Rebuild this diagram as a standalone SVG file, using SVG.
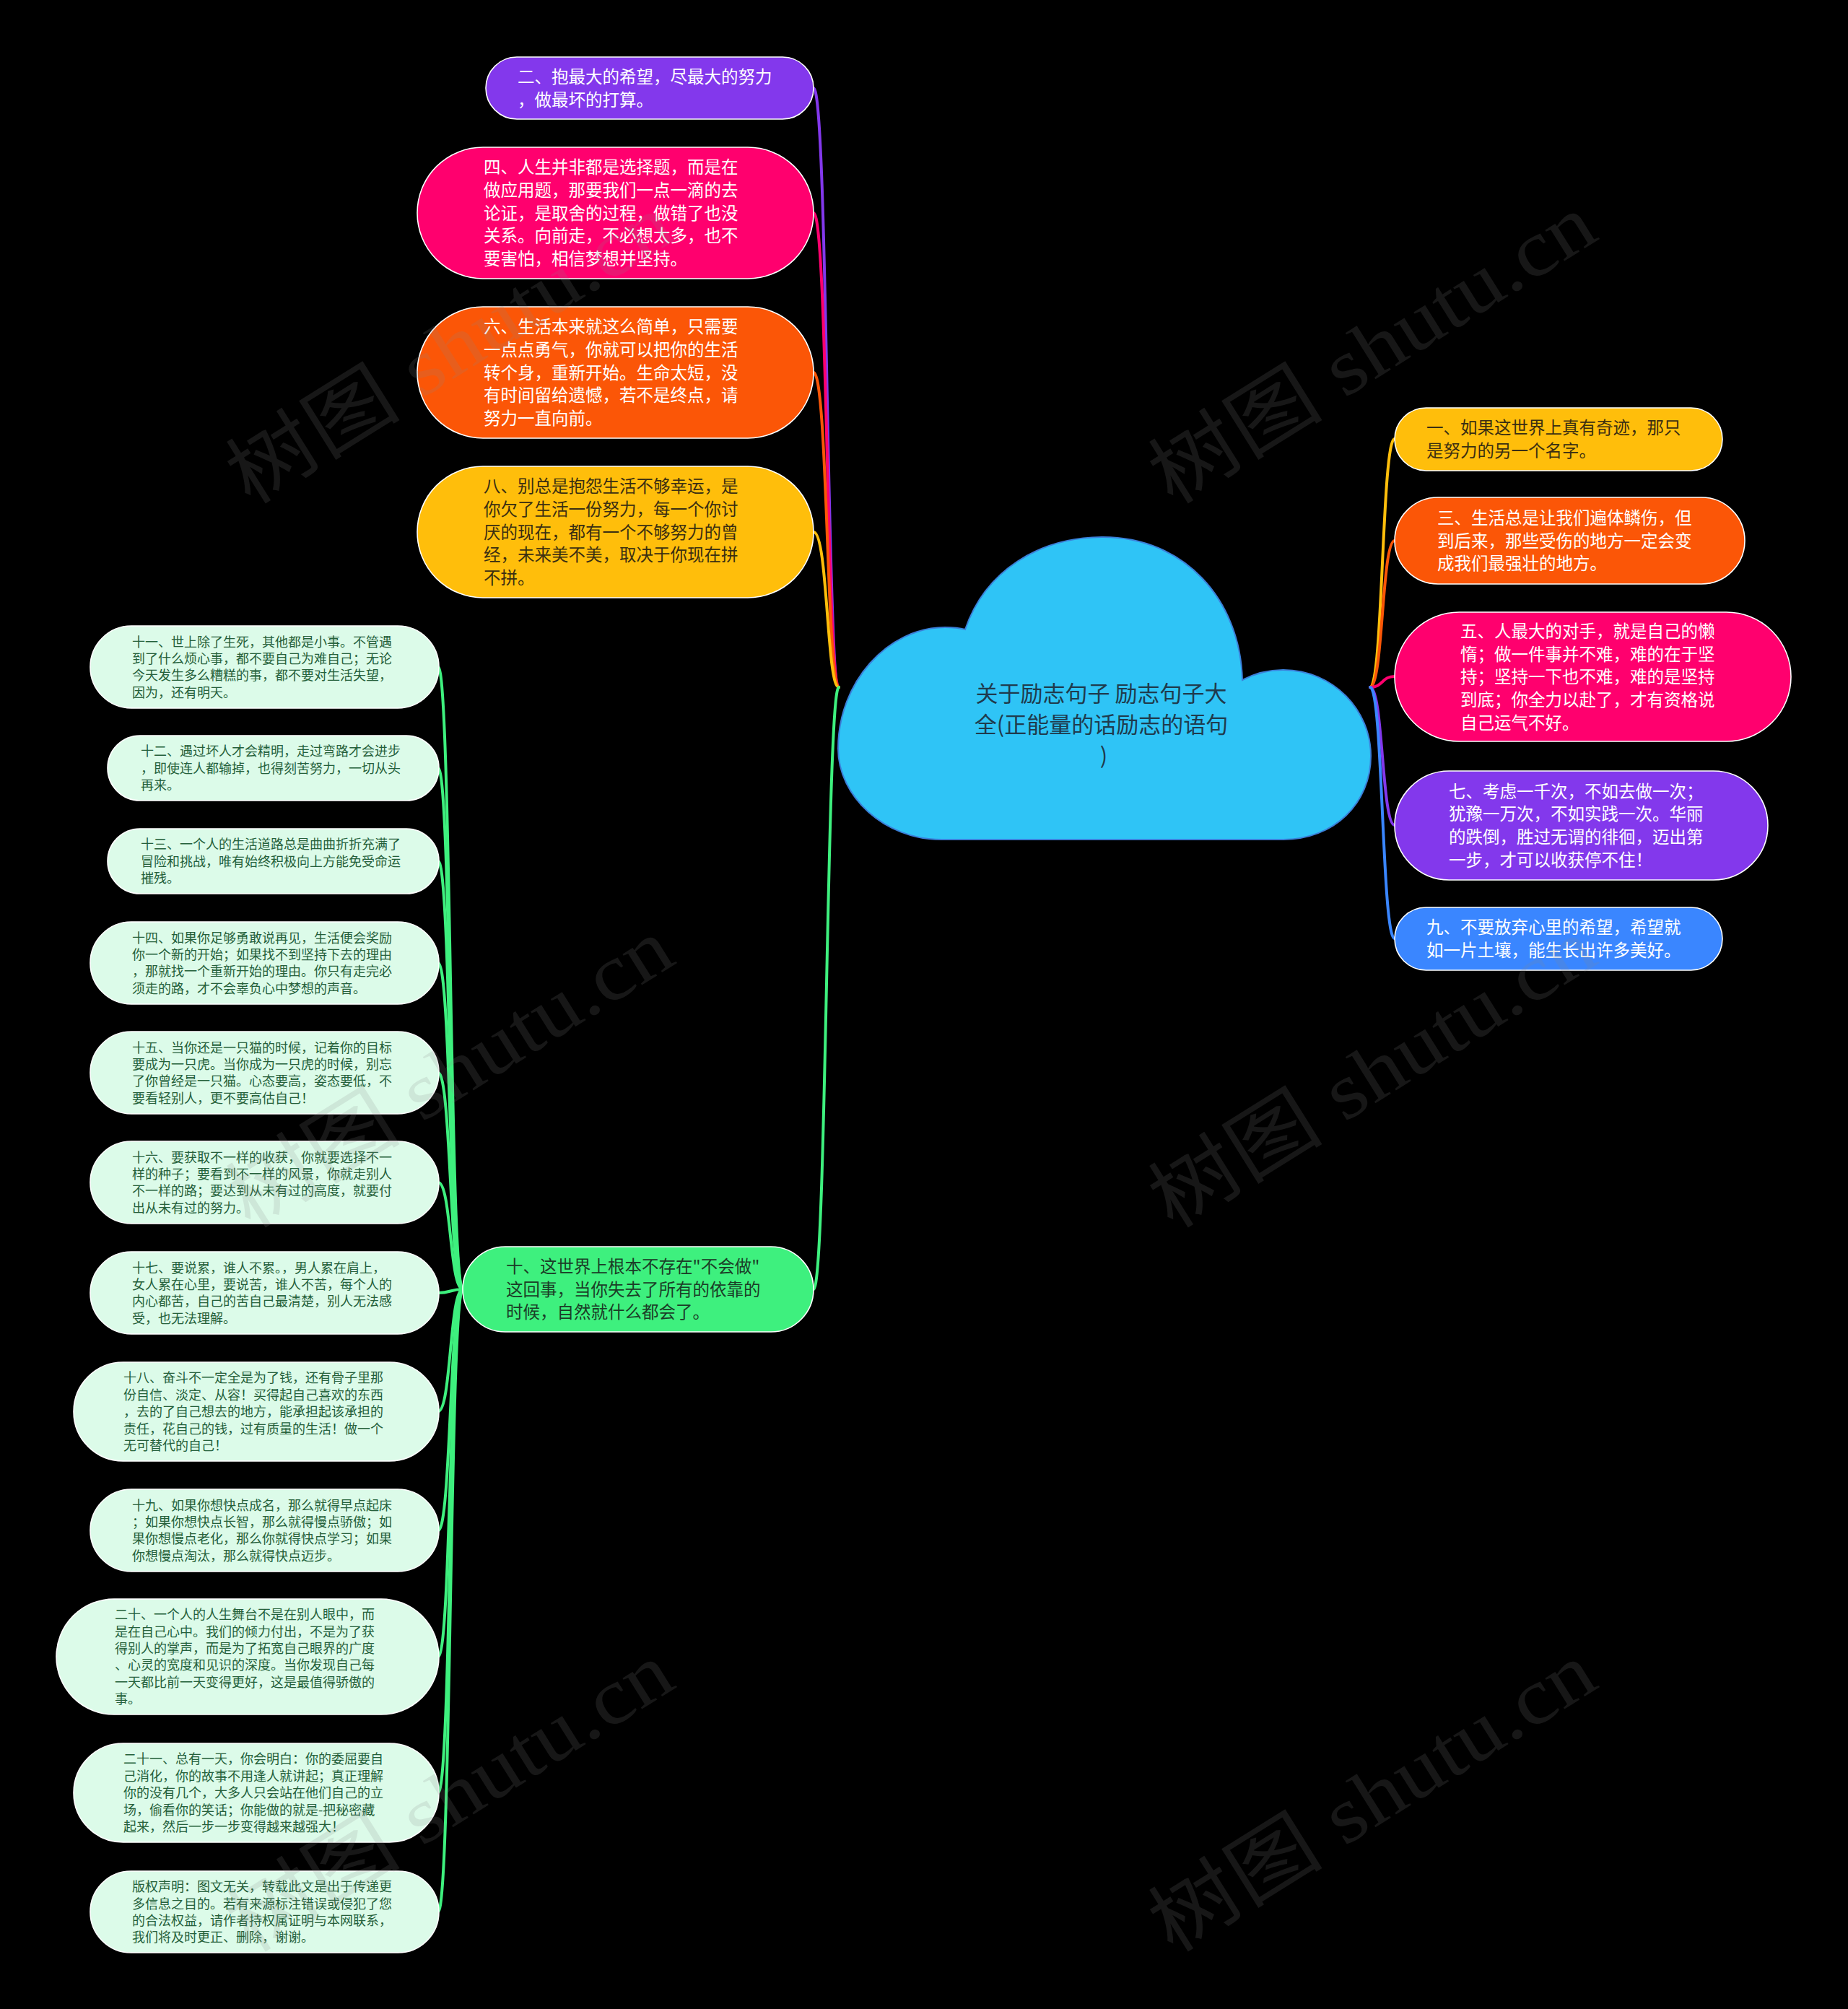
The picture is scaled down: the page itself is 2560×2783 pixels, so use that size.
<svg xmlns="http://www.w3.org/2000/svg" width="2560" height="2783" viewBox="0 0 2560 2783">
<style>
.t{font-family:"Noto Sans CJK SC","Noto Sans",sans-serif;}
.big{font-size:23.5px;}
.leaf{font-size:18px;fill:#24603a;}
.w{fill:#ffffff;}
.dk{fill:#3a2e12;}
.node{stroke:#ffffff;stroke-width:1.6;}
.leafbox{fill:#dcfbe9;stroke:#ffffff;stroke-width:1.6;}
.c{fill:none;stroke-width:4;stroke-linecap:round;}
.wm{font-family:"Liberation Serif","Noto Sans CJK SC",serif;font-size:110px;fill:#8a8a8a;opacity:0.17;}
</style>
<rect x="0" y="0" width="2560" height="2783" fill="#000000"/>

<g id="connectors">
  <path class="c" stroke="#8338ec" d="M1127 122 C1147 122 1145 952 1162 952"/>
  <path class="c" stroke="#ff006e" d="M1127 295 C1147 295 1145 952 1162 952"/>
  <path class="c" stroke="#fb5607" d="M1127 516 C1147 516 1145 952 1162 952"/>
  <path class="c" stroke="#ffbe0b" d="M1127 737 C1147 737 1145 952 1162 952"/>
  <path class="c" stroke="#3ef07e" d="M1162 952 C1145 952 1145 1786 1127 1786"/>
  <path class="c" stroke="#ffbe0b" d="M1898 952 C1916 952 1914 608 1932 608"/>
  <path class="c" stroke="#fb5607" d="M1898 952 C1916 952 1914 749 1932 749"/>
  <path class="c" stroke="#ff006e" d="M1898 952 C1916 952 1914 937 1932 937"/>
  <path class="c" stroke="#8338ec" d="M1898 952 C1916 952 1914 1143 1932 1143"/>
  <path class="c" stroke="#3a86ff" d="M1898 952 C1916 952 1914 1300 1932 1300"/>
  <g stroke="#3ef07e">
    <path class="c" d="M641 1786 C623 1786 625 924 607 924"/>
    <path class="c" d="M641 1786 C623 1786 625 1064 607 1064"/>
    <path class="c" d="M641 1786 C623 1786 625 1193 607 1193"/>
    <path class="c" d="M641 1786 C623 1786 625 1334 607 1334"/>
    <path class="c" d="M641 1786 C623 1786 625 1486 607 1486"/>
    <path class="c" d="M641 1786 C623 1786 625 1638 607 1638"/>
    <path class="c" d="M641 1786 C623 1786 625 1791 607 1791"/>
    <path class="c" d="M641 1786 C623 1786 625 1955 607 1955"/>
    <path class="c" d="M641 1786 C623 1786 625 2120 607 2120"/>
    <path class="c" d="M641 1786 C623 1786 625 2295 607 2295"/>
    <path class="c" d="M641 1786 C623 1786 625 2483 607 2483"/>
    <path class="c" d="M641 1786 C623 1786 625 2648 607 2648"/>
  </g>
</g>

<g id="root">
  <path d="M1337 872 C1365 790 1440 744 1528 744 C1640 744 1718 830 1721 942 C1738 933 1757 928 1777 928 C1848 928 1899 985 1899 1047 C1899 1113 1848 1163 1777 1163 L1304 1163 C1225 1163 1161 1103 1161 1037 C1161 945 1230 869 1309 869 C1320 869 1330 870 1337 872 Z" fill="#2fc4f6" stroke="#3b7fd9" stroke-width="2"/>
  <text class="t" font-size="31" fill="#1f3b4d" text-anchor="middle">
    <tspan x="1529" y="972">关于励志句子 励志句子大</tspan>
    <tspan x="1529" y="1015">全(正能量的话励志的语句</tspan>
    <tspan x="1529" y="1058">)</tspan>
  </text>
</g>

<g id="n2">
  <rect class="node" x="673" y="79" width="454" height="86" rx="43" fill="#8338ec"/>
  <text class="t big w"><tspan x="717" y="115">二、抱最大的希望，尽最大的努力</tspan><tspan x="717" y="146.5">，做最坏的打算。</tspan></text>
</g>
<g id="n4">
  <rect class="node" x="578" y="204" width="549" height="182" rx="91" fill="#ff006e"/>
  <text class="t big w"><tspan x="670" y="240.3">四、人生并非都是选择题，而是在</tspan><tspan x="670" y="272">做应用题，那要我们一点一滴的去</tspan><tspan x="670" y="303.7">论证，是取舍的过程，做错了也没</tspan><tspan x="670" y="335.4">关系。向前走，不必想太多，也不</tspan><tspan x="670" y="367.1">要害怕，相信梦想并坚持。</tspan></text>
</g>
<g id="n6">
  <rect class="node" x="578" y="425" width="549" height="182" rx="91" fill="#fb5607"/>
  <text class="t big w"><tspan x="670" y="461.3">六、生活本来就这么简单，只需要</tspan><tspan x="670" y="493">一点点勇气，你就可以把你的生活</tspan><tspan x="670" y="524.7">转个身，重新开始。生命太短，没</tspan><tspan x="670" y="556.4">有时间留给遗憾，若不是终点，请</tspan><tspan x="670" y="588.1">努力一直向前。</tspan></text>
</g>
<g id="n8">
  <rect class="node" x="578" y="646" width="549" height="182" rx="91" fill="#ffbe0b"/>
  <text class="t big dk"><tspan x="670" y="682.3">八、别总是抱怨生活不够幸运，是</tspan><tspan x="670" y="714">你欠了生活一份努力，每一个你讨</tspan><tspan x="670" y="745.7">厌的现在，都有一个不够努力的曾</tspan><tspan x="670" y="777.4">经，未来美不美，取决于你现在拼</tspan><tspan x="670" y="809.1">不拼。</tspan></text>
</g>

<g id="n1">
  <rect class="node" x="1932" y="565" width="454" height="87" rx="43.5" fill="#ffbe0b"/>
  <text class="t big dk"><tspan x="1976" y="601.4">一、如果这世界上真有奇迹，那只</tspan><tspan x="1976" y="633.1">是努力的另一个名字。</tspan></text>
</g>
<g id="n3">
  <rect class="node" x="1932" y="689" width="485" height="120" rx="60" fill="#fb5607"/>
  <text class="t big w"><tspan x="1991" y="726">三、生活总是让我们遍体鳞伤，但</tspan><tspan x="1991" y="757.7">到后来，那些受伤的地方一定会变</tspan><tspan x="1991" y="789.4">成我们最强壮的地方。</tspan></text>
</g>
<g id="n5">
  <rect class="node" x="1932" y="848" width="549" height="179" rx="89.5" fill="#ff006e"/>
  <text class="t big w"><tspan x="2023" y="882.8">五、人最大的对手，就是自己的懒</tspan><tspan x="2023" y="914.5">惰；做一件事并不难，难的在于坚</tspan><tspan x="2023" y="946.2">持；坚持一下也不难，难的是坚持</tspan><tspan x="2023" y="977.9">到底；你全力以赴了，才有资格说</tspan><tspan x="2023" y="1009.6">自己运气不好。</tspan></text>
</g>
<g id="n7">
  <rect class="node" x="1932" y="1068" width="517" height="151" rx="75.5" fill="#8338ec"/>
  <text class="t big w"><tspan x="2007" y="1104.6">七、考虑一千次，不如去做一次；</tspan><tspan x="2007" y="1136.3">犹豫一万次，不如实践一次。华丽</tspan><tspan x="2007" y="1168">的跌倒，胜过无谓的徘徊，迈出第</tspan><tspan x="2007" y="1199.7">一步，才可以收获停不住！</tspan></text>
</g>
<g id="n9">
  <rect class="node" x="1932" y="1257" width="454" height="87" rx="43.5" fill="#3a86ff"/>
  <text class="t big w"><tspan x="1976" y="1293.4">九、不要放弃心里的希望，希望就</tspan><tspan x="1976" y="1325.1">如一片土壤，能生长出许多美好。</tspan></text>
</g>

<g id="n10">
  <rect class="node" x="641" y="1727" width="486" height="118" rx="59" fill="#3ef07e"/>
  <text class="t big" fill="#1b3d27"><tspan x="701" y="1763">十、这世界上根本不存在"不会做"</tspan><tspan x="701" y="1794.7">这回事，当你失去了所有的依靠的</tspan><tspan x="701" y="1826.4">时候，自然就什么都会了。</tspan></text>
</g>

<g id="n11">
  <rect class="leafbox" x="125" y="867" width="483" height="114" rx="57"/>
  <text class="t leaf"><tspan x="183" y="895.6">十一、世上除了生死，其他都是小事。不管遇</tspan><tspan x="183" y="919">到了什么烦心事，都不要自己为难自己；无论</tspan><tspan x="183" y="942.4">今天发生多么糟糕的事，都不要对生活失望，</tspan><tspan x="183" y="965.8">因为，还有明天。</tspan></text>
</g>
<g id="n12">
  <rect class="leafbox" x="149" y="1019" width="459" height="90" rx="45"/>
  <text class="t leaf"><tspan x="195" y="1047.3">十二、遇过坏人才会精明，走过弯路才会进步</tspan><tspan x="195" y="1070.7">，即使连人都输掉，也得刻苦努力，一切从头</tspan><tspan x="195" y="1094.1">再来。</tspan></text>
</g>
<g id="n13">
  <rect class="leafbox" x="149" y="1148" width="459" height="90" rx="45"/>
  <text class="t leaf"><tspan x="195" y="1176.3">十三、一个人的生活道路总是曲曲折折充满了</tspan><tspan x="195" y="1199.7">冒险和挑战，唯有始终积极向上方能免受命运</tspan><tspan x="195" y="1223.1">摧残。</tspan></text>
</g>
<g id="n14">
  <rect class="leafbox" x="125" y="1277" width="483" height="114" rx="57"/>
  <text class="t leaf"><tspan x="183" y="1305.6">十四、如果你足够勇敢说再见，生活便会奖励</tspan><tspan x="183" y="1329">你一个新的开始；如果找不到坚持下去的理由</tspan><tspan x="183" y="1352.4">，那就找一个重新开始的理由。你只有走完必</tspan><tspan x="183" y="1375.8">须走的路，才不会辜负心中梦想的声音。</tspan></text>
</g>
<g id="n15">
  <rect class="leafbox" x="125" y="1429" width="483" height="114" rx="57"/>
  <text class="t leaf"><tspan x="183" y="1457.6">十五、当你还是一只猫的时候，记着你的目标</tspan><tspan x="183" y="1481">要成为一只虎。当你成为一只虎的时候，别忘</tspan><tspan x="183" y="1504.4">了你曾经是一只猫。心态要高，姿态要低，不</tspan><tspan x="183" y="1527.8">要看轻别人，更不要高估自己！</tspan></text>
</g>
<g id="n16">
  <rect class="leafbox" x="125" y="1581" width="483" height="114" rx="57"/>
  <text class="t leaf"><tspan x="183" y="1609.6">十六、要获取不一样的收获，你就要选择不一</tspan><tspan x="183" y="1633">样的种子；要看到不一样的风景，你就走别人</tspan><tspan x="183" y="1656.4">不一样的路；要达到从未有过的高度，就要付</tspan><tspan x="183" y="1679.8">出从未有过的努力。</tspan></text>
</g>
<g id="n17">
  <rect class="leafbox" x="125" y="1734" width="483" height="114" rx="57"/>
  <text class="t leaf"><tspan x="183" y="1762.6">十七、要说累，谁人不累。，男人累在肩上，</tspan><tspan x="183" y="1786">女人累在心里，要说苦，谁人不苦，每个人的</tspan><tspan x="183" y="1809.4">内心都苦，自己的苦自己最清楚，别人无法感</tspan><tspan x="183" y="1832.8">受，也无法理解。</tspan></text>
</g>
<g id="n18">
  <rect class="leafbox" x="102" y="1887" width="506" height="137" rx="68.5"/>
  <text class="t leaf"><tspan x="171" y="1915.4">十八、奋斗不一定全是为了钱，还有骨子里那</tspan><tspan x="171" y="1938.8">份自信、淡定、从容！买得起自己喜欢的东西</tspan><tspan x="171" y="1962.2">，去的了自己想去的地方，能承担起该承担的</tspan><tspan x="171" y="1985.6">责任，花自己的钱，过有质量的生活！做一个</tspan><tspan x="171" y="2009">无可替代的自己！</tspan></text>
</g>
<g id="n19">
  <rect class="leafbox" x="125" y="2063" width="483" height="114" rx="57"/>
  <text class="t leaf"><tspan x="183" y="2091.6">十九、如果你想快点成名，那么就得早点起床</tspan><tspan x="183" y="2115">；如果你想快点长智，那么就得慢点骄傲；如</tspan><tspan x="183" y="2138.4">果你想慢点老化，那么你就得快点学习；如果</tspan><tspan x="183" y="2161.8">你想慢点淘汰，那么就得快点迈步。</tspan></text>
</g>
<g id="n20">
  <rect class="leafbox" x="78" y="2215" width="530" height="160" rx="80"/>
  <text class="t leaf"><tspan x="159" y="2243.2">二十、一个人的人生舞台不是在别人眼中，而</tspan><tspan x="159" y="2266.6">是在自己心中。我们的倾力付出，不是为了获</tspan><tspan x="159" y="2290">得别人的掌声，而是为了拓宽自己眼界的广度</tspan><tspan x="159" y="2313.4">、心灵的宽度和见识的深度。当你发现自己每</tspan><tspan x="159" y="2336.8">一天都比前一天变得更好，这是最值得骄傲的</tspan><tspan x="159" y="2360.2">事。</tspan></text>
</g>
<g id="n21">
  <rect class="leafbox" x="102" y="2415" width="506" height="137" rx="68.5"/>
  <text class="t leaf"><tspan x="171" y="2443.4">二十一、总有一天，你会明白：你的委屈要自</tspan><tspan x="171" y="2466.8">己消化，你的故事不用逢人就讲起；真正理解</tspan><tspan x="171" y="2490.2">你的没有几个，大多人只会站在他们自己的立</tspan><tspan x="171" y="2513.6">场，偷看你的笑话；你能做的就是-把秘密藏</tspan><tspan x="171" y="2537">起来，然后一步一步变得越来越强大！</tspan></text>
</g>
<g id="n22">
  <rect class="leafbox" x="125" y="2592" width="483" height="113" rx="56.5"/>
  <text class="t leaf"><tspan x="183" y="2620.1">版权声明：图文无关，转载此文是出于传递更</tspan><tspan x="183" y="2643.5">多信息之目的。若有来源标注错误或侵犯了您</tspan><tspan x="183" y="2666.9">的合法权益，请作者持权属证明与本网联系，</tspan><tspan x="183" y="2690.3">我们将及时更正、删除，谢谢。</tspan></text>
</g>

<g id="watermarks">
  <text class="wm" transform="translate(346 701) rotate(-32)" textLength="700" lengthAdjust="spacingAndGlyphs">树图 shutu.cn</text>
  <text class="wm" transform="translate(1624 701) rotate(-32)" textLength="700" lengthAdjust="spacingAndGlyphs">树图 shutu.cn</text>
  <text class="wm" transform="translate(346 1704) rotate(-32)" textLength="700" lengthAdjust="spacingAndGlyphs">树图 shutu.cn</text>
  <text class="wm" transform="translate(1624 1704) rotate(-32)" textLength="700" lengthAdjust="spacingAndGlyphs">树图 shutu.cn</text>
  <text class="wm" transform="translate(346 2707) rotate(-32)" textLength="700" lengthAdjust="spacingAndGlyphs">树图 shutu.cn</text>
  <text class="wm" transform="translate(1624 2707) rotate(-32)" textLength="700" lengthAdjust="spacingAndGlyphs">树图 shutu.cn</text>
</g>
</svg>
